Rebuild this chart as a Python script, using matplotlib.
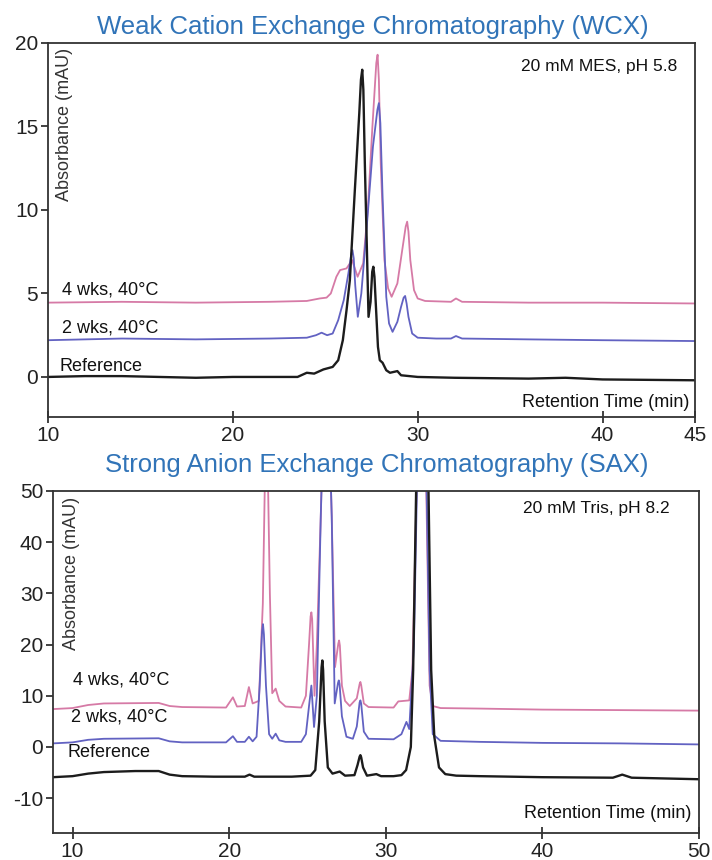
"""Recreate the WCX / SAX chromatogram overlay figure."""

import matplotlib
matplotlib.use("Agg")
import matplotlib.pyplot as plt

plt.rcParams.update({
    'font.family': ['Liberation Sans', 'DejaVu Sans'],
    'font.size': 13,
    'axes.linewidth': 1.3,
    'axes.edgecolor': '#333333',
    'axes.unicode_minus': False,
    'xtick.color': '#333333',
    'ytick.color': '#333333',
    'xtick.labelcolor': '#222222',
    'ytick.labelcolor': '#222222',
})

COLORS = {
    'ref': '#1c1c1c',
    'wk2': '#6262c2',
    'wk4': '#d67aa6',
}
TITLE_COLOR = '#3174b8'

wcx_ref_t = [10.0, 12.0, 14.0, 16.0, 18.0, 20.0, 22.0, 23.5, 24.0, 24.4, 24.9, 25.4,
             25.7, 25.95, 26.15, 26.33, 26.6, 26.84, 26.93, 27.0, 27.06, 27.14, 27.27,
             27.34, 27.45, 27.54, 27.6, 27.66, 27.75, 27.85, 27.95, 28.1, 28.3, 28.5,
             28.9, 29.1, 30.0, 32.0, 36.0, 38.0, 40.0, 45.0]
wcx_ref_v = [0.0, 0.05, 0.05, 0.0, -0.05, 0.0, 0.0, 0.0, 0.25, 0.2, 0.45, 0.6,
             1.0, 2.2, 4.0, 5.8, 11.2, 15.8, 17.8, 18.4, 17.2, 12.8, 6.8,
             3.6, 4.5, 6.3, 6.6, 6.0, 4.0, 1.8, 1.0, 0.85, 0.4, 0.25,
             0.35, 0.1, 0.0, -0.05, -0.1, -0.05, -0.15, -0.2]

wcx_wk2_t = [10.0, 14.0, 18.0, 22.0, 24.0, 24.5, 24.8, 25.1, 25.4, 25.7, 26.0, 26.25,
             26.4, 26.47, 26.54, 26.62, 26.76, 26.95, 27.23, 27.58, 27.82, 27.9, 27.98,
             28.1, 28.3, 28.45, 28.64, 28.9, 29.1, 29.24, 29.32, 29.4, 29.5, 29.7, 30.0,
             31.0, 31.8, 32.07, 32.4, 36.0, 40.0, 45.0]
wcx_wk2_v = [2.2, 2.3, 2.25, 2.3, 2.35, 2.5, 2.65, 2.5, 2.6, 3.4, 4.6, 6.2,
             7.3, 7.6, 7.1, 5.5, 3.6, 5.0, 8.8, 13.8, 16.0, 16.4, 15.2,
             10.8, 4.8, 3.2, 2.7, 3.3, 4.2, 4.75, 4.85, 4.4, 3.6, 2.6, 2.35,
             2.3, 2.3, 2.45, 2.3, 2.25, 2.2, 2.15]

wcx_wk4_t = [10.0, 14.0, 18.0, 22.0, 24.0, 24.7, 25.07, 25.3, 25.6, 25.8, 26.15, 26.45,
             26.75, 27.05, 27.3, 27.55, 27.76, 27.83, 27.9, 28.0, 28.2, 28.4, 28.59,
             28.9, 29.15, 29.35, 29.43, 29.5, 29.6, 29.8, 30.0, 30.4, 31.8, 32.07,
             32.4, 36.0, 40.0, 45.0]
wcx_wk4_v = [4.45, 4.5, 4.45, 4.5, 4.55, 4.7, 4.75, 5.0, 6.0, 6.4, 6.5, 7.0,
             6.0, 6.8, 10.0, 15.0, 18.8, 19.3, 17.8, 12.8, 7.0, 5.3, 4.8,
             5.6, 7.5, 9.0, 9.3, 8.7, 7.0, 5.2, 4.7, 4.55, 4.5, 4.7,
             4.5, 4.45, 4.45, 4.4]

sax_ref_t = [8.75, 10.0, 11.0, 12.0, 14.0, 15.5, 16.2, 17.0, 19.0, 21.0, 21.3, 21.6,
             24.0, 25.2, 25.5, 25.75, 25.9, 25.95, 26.0, 26.1, 26.3, 26.6, 27.06, 27.4,
             28.0, 28.2, 28.33, 28.38, 28.43, 28.55, 28.8, 29.4, 29.7, 30.5, 31.0,
             31.3, 31.6, 31.75, 31.95, 32.35, 32.72, 32.9, 33.1, 33.4, 33.8, 34.5,
             36.0, 40.0, 44.5, 45.1, 45.7, 50.0]
sax_ref_v = [-5.9, -5.7, -5.2, -4.9, -4.7, -4.7, -5.4, -5.7, -5.8, -5.8, -5.4, -5.8,
             -5.8, -5.6, -4.5, 5.0, 15.5, 16.9, 15.0, 5.0, -4.0, -5.2, -4.8, -5.6,
             -5.5, -3.5, -1.9, -1.6, -2.0, -4.0, -5.6, -5.3, -5.7, -5.7, -5.5,
             -4.5, 0.0, 15.0, 52.0, 110.0, 52.0, 15.0, 2.0, -4.0, -5.3, -5.6,
             -5.7, -5.9, -6.0, -5.4, -6.0, -6.3]

sax_wk2_t = [8.75, 10.0, 11.0, 12.0, 15.5, 16.2, 17.0, 19.8, 20.24, 20.5, 21.0, 21.26,
             21.5, 21.75, 21.95, 22.1, 22.16, 22.22, 22.35, 22.55, 22.75, 22.97, 23.2,
             23.6, 24.6, 24.9, 25.1, 25.25, 25.42, 25.6, 25.85, 26.2, 26.55, 26.74,
             26.95, 27.0, 27.05, 27.2, 27.49, 27.9, 28.15, 28.33, 28.38, 28.43, 28.6,
             28.9, 30.5, 31.0, 31.32, 31.5, 31.8, 32.0, 32.3, 32.6, 32.8, 33.0, 33.5,
             36.0, 40.0, 45.0, 50.0]
sax_wk2_v = [0.7, 0.9, 1.4, 1.6, 1.7, 1.1, 0.9, 0.9, 2.1, 1.0, 1.0, 2.0,
             1.1, 2.0, 12.0, 22.5, 24.0, 22.0, 12.0, 2.5, 1.6, 2.6, 1.3,
             1.0, 1.0, 2.5, 8.0, 12.0, 3.9, 10.0, 45.0, 85.0, 45.0, 8.5,
             12.5, 13.0, 12.3, 6.0, 2.0, 1.6, 4.0, 8.7, 9.1, 8.5, 3.0,
             1.6, 1.5, 2.5, 4.9, 3.5, 20.0, 52.0, 90.0, 52.0, 15.0, 2.5, 1.2,
             1.0, 0.8, 0.7, 0.5]

sax_wk4_t = [8.75, 10.0, 11.0, 12.0, 15.5, 16.2, 17.0, 19.8, 20.24, 20.5, 21.0, 21.26,
             21.5, 21.9, 22.15, 22.38, 22.6, 22.75, 22.97, 23.2, 23.6, 24.6, 24.9,
             25.1, 25.2, 25.25, 25.3, 25.45, 25.6, 25.85, 26.2, 26.55, 26.76, 26.97,
             27.02, 27.07, 27.2, 27.4, 27.7, 28.15, 28.33, 28.38, 28.43, 28.6, 28.9,
             30.5, 30.8, 31.5, 31.7, 31.95, 32.3, 32.6, 32.8, 33.0, 33.5, 36.0, 40.0,
             45.0, 50.0]
sax_wk4_v = [7.4, 7.6, 8.2, 8.5, 8.6, 8.0, 7.8, 7.7, 9.7, 7.9, 8.0, 11.7,
             8.5, 9.0, 28.0, 70.0, 30.0, 10.5, 11.4, 9.0, 7.9, 7.7, 10.0,
             20.0, 25.5, 26.3, 25.0, 10.0, 20.0, 45.0, 85.0, 45.0, 15.6, 20.2,
             20.8, 19.8, 12.0, 9.0, 8.0, 9.5, 12.3, 12.7, 12.1, 8.5, 7.8,
             7.7, 8.9, 9.1, 15.0, 48.0, 85.0, 48.0, 12.0, 8.0, 7.6, 7.5, 7.3,
             7.2, 7.1]

wcx_xticks = [10, 20, 30, 40, 45]
wcx_yticks = [0, 5, 10, 15, 20]
sax_xticks = [10, 20, 30, 40, 50]
sax_yticks = [-10, 0, 10, 20, 30, 40, 50]

trace_labels = ['4 wks, 40°C', '2 wks, 40°C', 'Reference']


def draw_panel(ax, traces, xlim, ylim, xticks, yticks, buffer_txt, lab_pos, buf_pos):
    for (t, v), key in traces:
        lw = 1.7 if key == 'ref' else 1.3
        ax.plot(t, v, color=COLORS[key], lw=lw, solid_joinstyle='round')
    ax.set_xlim(*xlim)
    ax.set_ylim(*ylim)
    ax.set_xticks(xticks)
    ax.set_yticks(yticks)
    ax.tick_params(axis='x', direction='inout', length=9, width=1.3, labelsize=15, pad=2)
    ax.tick_params(axis='y', direction='out', length=5, width=1.3, labelsize=15, pad=2)

    ax.text(buf_pos[0], buf_pos[1], buffer_txt, transform=ax.transAxes,
            ha='right', va='center', fontsize=12.5, color='#111111')
    ax.text(lab_pos['abs'][0], lab_pos['abs'][1], 'Absorbance (mAU)', transform=ax.transAxes,
            rotation=90, ha='center', va='top', fontsize=13, color='#333333')
    for lab, (x, y) in zip(trace_labels, lab_pos['traces']):
        ax.text(x, y, lab, transform=ax.transAxes, ha='left', va='center',
                fontsize=13, color='#111111')
    ax.text(lab_pos['rt'][0], lab_pos['rt'][1], 'Retention Time (min)', transform=ax.transAxes,
            ha='right', va='center', fontsize=13, color='#111111')


fig = plt.figure(figsize=(7.12, 8.6), dpi=100)

ax1 = fig.add_axes([0.0674, 0.5151, 0.9087, 0.4349])
draw_panel(ax1,
           [((wcx_wk4_t, wcx_wk4_v), 'wk4'),
            ((wcx_wk2_t, wcx_wk2_v), 'wk2'),
            ((wcx_ref_t, wcx_ref_v), 'ref')],
           (10, 45), (-2.4, 20), wcx_xticks, wcx_yticks,
           '20 mM MES, pH 5.8',
           {'abs': (0.025, 0.988),
            'traces': [(0.022, 0.34), (0.022, 0.238), (0.0185, 0.134)],
            'rt': (0.992, 0.04)},
           (0.972, 0.936))

ax2 = fig.add_axes([0.0744, 0.0314, 0.9073, 0.3977])
draw_panel(ax2,
           [((sax_wk4_t, sax_wk4_v), 'wk4'),
            ((sax_wk2_t, sax_wk2_v), 'wk2'),
            ((sax_ref_t, sax_ref_v), 'ref')],
           (8.75, 50), (-16.8, 50), sax_xticks, sax_yticks,
           '20 mM Tris, pH 8.2',
           {'abs': (0.029, 0.982),
            'traces': [(0.031, 0.447), (0.028, 0.339), (0.023, 0.234)],
            'rt': (0.989, 0.058)},
           (0.955, 0.95))

fig.text(0.524, 0.9686, 'Weak Cation Exchange Chromatography (WCX)',
         ha='center', va='center', fontsize=18.5, color=TITLE_COLOR)
fig.text(0.529, 0.459, 'Strong Anion Exchange Chromatography (SAX)',
         ha='center', va='center', fontsize=18.5, color=TITLE_COLOR)

fig.savefig('out.png', dpi=100)
plt.close()
